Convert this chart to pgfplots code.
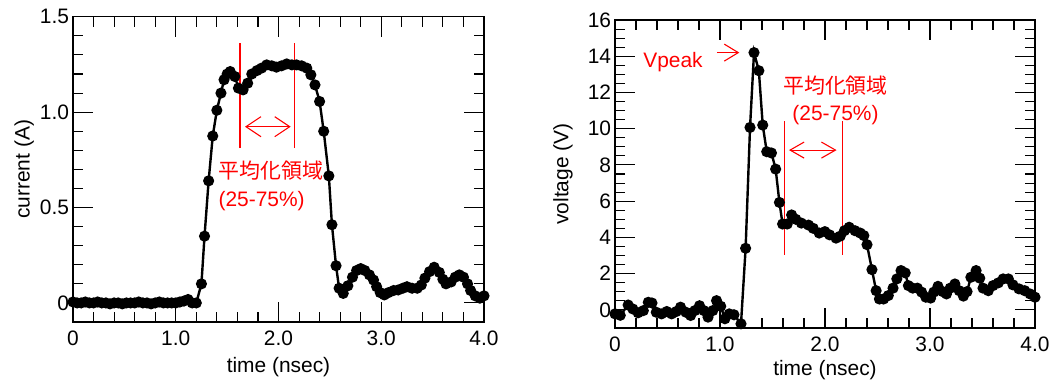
\documentclass[border=0pt]{standalone}
\usepackage{pgfplots}
\pgfplotsset{compat=1.18}
\usepackage{fontspec}
\setmainfont{Liberation Sans}
\newfontfamily\cjk{Noto Sans CJK JP}
\usetikzlibrary{arrows.meta}

\pgfplotsset{
 myaxis/.style={
  scale only axis, clip=false,
  xmin=0,xmax=4, xtick={0,1,2,3,4}, xticklabels={0,1.0,2.0,3.0,4.0},
  minor x tick num=4,
  major tick length=20bp, minor tick length=10bp,
  tick align=inside,
  every axis/.append style={line width=1.3bp},
  every tick/.style={black,line width=1.1bp},
  tick label style={font=\fontsize{21}{25}\selectfont},
  label style={font=\fontsize{21}{25}\selectfont},
  /pgf/number format/assume math mode=true,
  xticklabel style={yshift=-5bp},
  xlabel={time (nsec)},
 },
 data/.style={black,line width=2.4bp,mark=*,mark size=4.3bp,mark options={solid}},
}

\begin{document}
\begin{tikzpicture}
\begin{axis}[myaxis,
  at={(73bp,61bp)}, anchor=south west,
  width=411bp, height=305.2bp,
  ymin=-0.1, ymax=1.5, ytick={0,0.5,1,1.5}, yticklabels={0,0.5,1.0,1.5},
  minor y tick num=4,
  ylabel={current (A)},
  x label style={at={(axis description cs:0.5,-0.1475)}, anchor=center},
  y label style={at={(axis description cs:-0.119,0.5)}, anchor=center, rotate=0},
]
\addplot[data] coordinates {
(0,0.005)(0.04,0.0)(0.08,0.0)(0.12,0.005)(0.16,0.0)(0.2,0.0)(0.24,0.005)(0.28,0.0)
(0.32,0.0)(0.36,-0.005)(0.4,0.0)(0.44,0.0)(0.48,-0.005)(0.52,0.0)(0.56,0.0)(0.6,0.0)
(0.64,0.005)(0.68,0.0)(0.72,0.0)(0.76,-0.005)(0.8,0.0)(0.84,0.005)(0.88,0.0)(0.92,0.0)
(0.96,0.0)(1.0,0.0)(1.04,0.005)(1.08,0.01)(1.12,0.018)(1.16,0.0)(1.20,0.0)
(1.25,0.10)(1.28,0.35)(1.32,0.64)(1.36,0.875)(1.40,1.01)(1.44,1.10)(1.47,1.17)(1.50,1.20)
(1.53,1.213)(1.575,1.187)(1.61,1.126)(1.655,1.117)(1.70,1.152)(1.74,1.20)(1.79,1.218)
(1.835,1.231)(1.885,1.248)(1.935,1.243)(1.98,1.236)(2.03,1.243)(2.08,1.253)(2.13,1.248)
(2.175,1.248)(2.225,1.243)(2.275,1.231)(2.315,1.196)(2.355,1.143)(2.40,1.056)(2.44,0.90)
(2.49,0.666)(2.52,0.41)(2.56,0.195)(2.59,0.077)(2.63,0.05)(2.675,0.09)(2.72,0.135)
(2.76,0.17)(2.80,0.18)(2.84,0.17)(2.885,0.147)(2.925,0.12)(2.955,0.085)(2.99,0.054)
(3.03,0.042)(3.07,0.054)(3.12,0.065)(3.165,0.068)(3.21,0.077)(3.25,0.085)(3.30,0.077)
(3.35,0.077)(3.39,0.094)(3.425,0.13)(3.47,0.164)(3.515,0.187)(3.565,0.16)(3.60,0.124)
(3.63,0.10)(3.68,0.11)(3.72,0.135)(3.76,0.147)(3.80,0.135)(3.84,0.10)(3.87,0.065)
(3.915,0.037)(3.96,0.025)(4.0,0.037)
};
\draw[red, line width=1.1bp] (axis cs:1.625,0.811) -- (axis cs:1.625,1.361);
\draw[red, line width=1.1bp] (axis cs:2.16,0.811) -- (axis cs:2.16,1.361);
\draw[red, line width=1.1bp, {Straight Barb[length=15bp,width=20bp]}-{Straight Barb[length=15bp,width=20bp]}] (axis cs:1.674,0.924) -- (axis cs:2.119,0.924);
\node[text=red, anchor=west, align=left, inner sep=0pt, font=\fontsize{21}{28}\selectfont] at (axis cs:1.411,0.614) {{\cjk 平均化領域}\\(25-75\%)};
\end{axis}

\begin{axis}[myaxis,
  at={(615bp,55bp)}, anchor=south west,
  width=420bp, height=308bp,
  ymin=-1, ymax=16, ytick={0,2,...,16},
  minor y tick num=3,
  ylabel={voltage (V)},
  x label style={at={(axis description cs:0.5,-0.136)}, anchor=center},
  y label style={at={(axis description cs:-0.124,0.5)}, anchor=center, rotate=0},
]
\addplot[data] coordinates {
(0,-0.22)(0.05,-0.3)(0.125,0.27)(0.17,0.05)(0.22,-0.16)(0.27,-0.04)(0.317,0.42)(0.352,0.38)
(0.393,-0.13)(0.443,-0.22)(0.493,-0.09)(0.539,-0.22)(0.584,-0.09)(0.624,0.15)(0.675,-0.13)
(0.72,-0.31)(0.76,-0.04)(0.805,0.23)(0.846,-0.04)(0.886,-0.4)(0.931,-0.04)(0.967,0.51)
(1.007,0.2)(1.047,-0.49)(1.088,-0.22)(1.133,-0.27)(1.20,-0.77)(1.244,3.4)(1.286,10.07)
(1.324,14.2)(1.37,13.2)(1.407,10.2)(1.445,8.73)(1.49,8.66)(1.53,7.77)(1.566,5.93)(1.596,4.74)
(1.64,4.74)(1.682,5.24)(1.722,5.0)(1.775,4.79)(1.843,4.68)(1.888,4.5)(1.945,4.24)(1.999,4.32)
(2.044,4.14)(2.105,3.96)(2.145,4.07)(2.185,4.37)(2.23,4.56)(2.286,4.37)(2.336,4.24)(2.37,4.1)
(2.40,3.6)(2.447,2.22)(2.487,1.06)(2.518,0.6)(2.558,0.6)(2.603,0.79)(2.648,1.2)(2.684,1.71)
(2.724,2.17)(2.764,2.04)(2.794,1.34)(2.835,1.2)(2.88,1.2)(2.92,0.98)(2.96,0.7)(3.006,0.65)
(3.036,0.98)(3.076,1.3)(3.12,1.01)(3.157,0.88)(3.192,1.2)(3.237,1.43)(3.278,1.06)(3.318,0.76)
(3.353,1.01)(3.389,1.8)(3.439,2.17)(3.474,1.75)(3.505,1.2)(3.555,1.06)(3.60,1.34)(3.65,1.49)
(3.696,1.71)(3.746,1.71)(3.79,1.38)(3.847,1.16)(3.902,1.06)(3.953,0.88)(4.0,0.7)
};
\draw[red, line width=1.1bp] (axis cs:1.612,3.03) -- (axis cs:1.612,10.42);
\draw[red, line width=1.1bp] (axis cs:2.165,3.03) -- (axis cs:2.165,10.42);
\draw[red, line width=1.1bp, {Straight Barb[length=14bp,width=16bp]}-{Straight Barb[length=14bp,width=16bp]}] (axis cs:1.657,8.82) -- (axis cs:2.11,8.82);
\draw[red, line width=1.1bp, -{Straight Barb[length=14bp,width=17bp]}] (axis cs:0.971,14.2) -- (axis cs:1.184,14.2);
\node[text=red, anchor=center, font=\fontsize{21}{25}\selectfont] at (axis cs:0.552,13.65) {Vpeak};
\node[text=red, anchor=center, align=center, inner sep=0pt, font=\fontsize{21}{27}\selectfont] at (axis cs:2.1,11.55) {{\cjk 平均化領域}\\(25-75\%)};
\end{axis}
\pgfresetboundingbox
\useasboundingbox (0,0) rectangle (1053bp,383bp);
\end{tikzpicture}
\end{document}
